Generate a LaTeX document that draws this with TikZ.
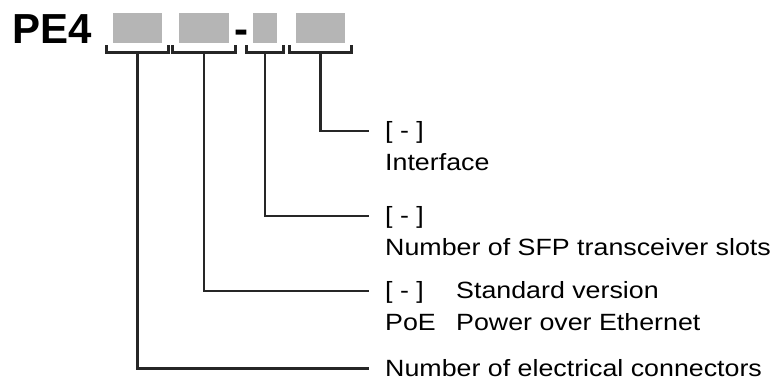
\documentclass[tikz,border=0pt]{standalone}
\usepackage{fontspec}
\setmainfont{Liberation Sans}
\newfontfamily\desconfont[FakeStretch=1.14]{Liberation Sans}
\usetikzlibrary{positioning}
\definecolor{slotgray}{RGB}{181,181,181}
\tikzset{
	slot/.style={
		rectangle,
		fill=slotgray,
		inner sep=0pt,
		minimum height=30pt
	},
	bracket/.style={
		line width=2.8pt,
		draw=black!85
	},
	leader/.style={
		line width=2.7pt,
		draw=black!85
	},
	desc/.style={
		anchor=base west,
		inner sep=0pt,
		font=\desconfont\fontsize{23.5}{28}\selectfont
	},
	code/.style={
		anchor=base,
		inner sep=0pt,
		font=\bfseries\fontsize{42}{48}\selectfont
	}
}

\begin{document}
\begin{tikzpicture}[x=1pt, y=-1pt]
	\useasboundingbox (0,0) rectangle (770,380);

	% type code
	\node (pe) [code, anchor=base west] at (12,43) {PE4};
	\node (s1) [slot, minimum width=49pt] at (137.5,28) {};
	\node (s2) [slot, minimum width=50pt] at (204,28) {};
	\node (dash) [code] at (241,43) {-};
	\node (s3) [slot, minimum width=24pt] at (265,28) {};
	\node (s4) [slot, minimum width=49pt] at (320.5,28) {};

	% brackets under the slots
	\foreach \s in {s1,s2,s3,s4}
		\draw [bracket] ([xshift=-6.5pt, yshift=-2pt]\s.south west) -- ([xshift=-6.5pt, yshift=-9pt]\s.south west)
			-- ([xshift=6.5pt, yshift=-9pt]\s.south east) -- ([xshift=6.5pt, yshift=-2pt]\s.south east);

	% leader ends
	\coordinate (e4) at (369,131);
	\coordinate (e3) at (369,216);
	\coordinate (e2) at (369,291);
	\coordinate (e1) at (369,368.5);

	\draw [leader] ([yshift=-9pt]s4.south) |- (e4);
	\draw [leader] ([yshift=-9pt]s3.south) |- (e3);
	\draw [leader] ([yshift=-9pt]s2.south) |- (e2);
	\draw [leader] ([yshift=-9pt]s1.south) |- (e1);

	% descriptions
	\node (if1) [desc] at (385,138) {[ - ]};
	\node (if2) [desc] at (385,170) {Interface};
	\node (sfp1) [desc] at (385,223) {[ - ]};
	\node (sfp2) [desc] at (385,255) {Number of SFP transceiver slots};
	\node (ver1) [desc] at (385,298) {[ - ]};
	\node (ver2) [desc] at (456,298) {Standard version};
	\node (poe1) [desc] at (385,330) {PoE};
	\node (poe2) [desc] at (456,330) {Power over Ethernet};
	\node (conn) [desc] at (385,376) {Number of electrical connectors};
\end{tikzpicture}
\end{document}
